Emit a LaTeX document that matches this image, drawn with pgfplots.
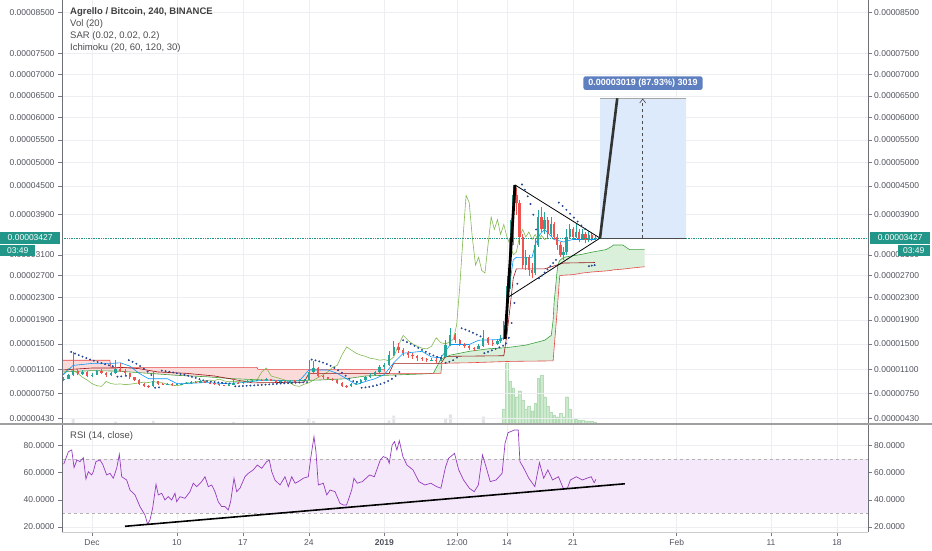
\documentclass[border=0pt]{standalone}
\usepackage{fontspec}
\setmainfont{Liberation Sans}
\usepackage{pgfplots}
\usepackage{pgfplotstable}
\pgfplotsset{compat=1.18}
\usetikzlibrary{arrows.meta}

\definecolor{upc}{RGB}{38,166,154}
\definecolor{dnc}{RGB}{239,83,80}
\definecolor{sarc}{RGB}{36,72,150}
\definecolor{convc}{RGB}{4,150,255}
\definecolor{basec}{RGB}{153,21,21}
\definecolor{lagc}{RGB}{130,185,80}
\definecolor{leadac}{RGB}{60,160,60}
\definecolor{leadbc}{RGB}{230,70,70}
\definecolor{rsic}{RGB}{150,60,190}
\definecolor{rsiband}{RGB}{245,232,250}
\definecolor{lblc}{RGB}{33,150,137}
\definecolor{projc}{RGB}{221,234,251}
\definecolor{boxc}{RGB}{94,128,192}
\definecolor{gridc}{RGB}{236,238,242}
\definecolor{txtc}{RGB}{80,84,94}
\definecolor{tickc}{RGB}{120,123,134}
\definecolor{axc}{RGB}{110,112,120}
\definecolor{redcloud}{RGB}{251,218,218}
\definecolor{greencloud}{RGB}{218,240,218}
\definecolor{volgc}{RGB}{205,233,206}
\definecolor{volec}{RGB}{180,220,182}

% price panel: screen y ~ price^0.76 (result kept in fpu format)
\newcommand\powtrafo[1]{\begingroup\pgfkeys{/pgf/fpu=true}%
  \pgfmathparse{(#1)^0.76}\xdef\pwres{\pgfmathresult}\endgroup\let\pgfmathresult\pwres}

% 12h / 8h candles, price in 1e-8 BTC
\pgfplotstableread{
d o h l c
-3.0 940 985 930 960
-2.5 960 1030 950 1010
-2.0 1010 1370 1000 1080
-1.5 1080 1100 1010 1030
-1.0 1030 1090 1020 1060
-0.5 1060 1070 980 1000
0.0 1000 1040 990 1020
0.5 1020 1090 1010 1070
1.0 1070 1100 1030 1050
1.5 1050 1060 990 1010
2.0 1010 1060 1000 1040
2.5 1040 1240 1030 1110
3.0 1110 1200 1060 1080
3.5 1080 1100 1020 1040
4.0 1040 1050 960 980
4.5 980 990 920 940
5.0 940 950 870 890
5.5 890 900 840 860
6.0 860 870 830 850
6.5 850 1080 845 920
7.0 920 930 875 890
7.5 890 900 865 880
8.0 880 900 870 885
8.5 885 895 860 875
9.0 875 895 865 880
9.5 880 905 870 890
10.0 890 915 880 900
10.5 900 930 890 910
11.0 910 925 895 905
11.5 905 940 900 920
12.0 920 930 895 905
12.5 905 915 890 900
13.0 900 905 870 880
13.5 880 885 855 865
14.0 865 875 850 860
14.5 860 880 850 870
15.0 870 960 865 905
15.5 905 915 885 895
16.0 895 930 890 915
16.5 915 940 905 925
17.0 925 945 915 930
17.5 930 955 925 940
18.0 940 950 925 935
18.5 935 975 930 955
19.0 955 960 920 930
19.5 930 940 905 915
20.0 915 940 905 925
20.5 925 935 905 915
21.0 915 945 905 930
21.5 930 940 915 925
22.0 925 950 920 935
22.5 935 955 925 940
23.0 940 1250 935 1060
23.5 1060 1230 1040 1120
24.0 1120 1130 980 1000
24.5 1000 1020 960 980
25.0 980 990 940 960
25.5 960 970 925 940
26.0 940 950 880 900
26.5 900 910 845 860
27.0 860 870 830 850
27.5 850 900 840 880
28.0 880 920 870 900
28.5 900 960 890 940
29.0 940 1000 930 980
29.5 980 1040 970 1020
30.0 1020 1080 1000 1060
30.5 1060 1160 1040 1130
31.0 1130 1200 1110 1160
31.5 1160 1380 1150 1320
32.0 1320 1550 1300 1450
32.5 1450 1520 1350 1400
33.0 1400 1430 1300 1350
33.5 1350 1380 1280 1320
34.0 1320 1350 1260 1300
34.5 1300 1320 1230 1270
35.0 1270 1290 1220 1260
35.5 1260 1280 1210 1240
36.0 1240 1280 1220 1250
36.5 1250 1270 1200 1230
37.0 1230 1320 1220 1290
37.5 1290 1560 1280 1480
38.0 1480 1760 1460 1640
38.5 1640 1680 1520 1560
39.0 1560 1580 1470 1500
39.5 1500 1520 1430 1460
40.0 1460 1480 1400 1430
40.5 1430 1450 1390 1420
41.0 1420 1500 1410 1460
41.5 1460 1730 1450 1600
42.0 1600 1620 1480 1520
42.5 1520 1560 1470 1500
43.0 1500 1580 1480 1540
43.33 1540 1640 1520 1580
43.67 1580 1880 1560 1820
44.0 1820 2700 1800 2500
44.33 2500 3800 2450 3400
44.67 3400 4520 3300 4300
45.0 4300 4460 3900 4150
45.33 4150 4200 3300 3440
45.67 3440 3500 2830 2900
46.0 2900 3200 2800 3050
46.33 3050 3100 2700 2800
46.67 2800 2950 2650 2750
47.0 2750 3400 2720 3300
47.33 3300 4000 3250 3850
47.67 3850 4050 3550 3600
48.0 3600 3950 3500 3800
48.33 3800 3850 3400 3500
48.67 3500 3850 3450 3700
49.0 3700 3750 3400 3450
49.33 3450 3500 3200 3300
49.67 3300 3350 3050 3100
50.0 3100 3250 3000 3150
50.33 3150 3600 3100 3450
50.67 3450 3700 3400 3600
51.0 3600 3650 3400 3450
51.33 3450 3700 3420 3550
51.67 3550 3600 3350 3400
52.0 3400 3600 3380 3500
52.33 3500 3550 3330 3380
52.67 3380 3560 3350 3480
53.0 3480 3520 3360 3400
53.33 3400 3470 3380 3427
}\candles

\pgfplotstableread{
d p
-2.2 1370
-1.8 1345
-1.4 1320
-1.0 1296
-0.6 1273
-0.2 1252
0.2 1232
0.6 1213
1.0 1195
1.4 1178
1.8 1162
2.2 1147
2.7 990
3.1 995
3.6 1003
3.9 1240
4.3 1215
4.7 1185
5.1 1150
5.5 1110
5.9 1065
6.3 1015
6.7 830
7.1 835
7.4 1080
7.8 1072
8.2 1063
8.6 1053
9.0 1042
9.4 1030
9.8 1017
10.2 1003
10.6 988
11.0 972
11.4 955
11.8 937
12.2 925
12.6 918
13.0 912
13.4 906
13.8 900
14.2 895
14.6 890
15.2 850
15.6 852
16.0 855
16.4 858
16.8 861
17.2 864
17.6 867
18.0 870
18.4 874
18.8 878
19.2 882
19.6 886
20.0 890
20.4 893
20.8 896
21.2 899
21.6 902
22.0 905
22.4 908
22.8 911
23.3 1250
23.7 1238
24.1 1222
24.5 1203
24.9 1180
25.3 1153
25.7 1122
26.1 1087
26.5 1048
26.9 1005
27.3 960
27.7 925
28.1 915
28.6 830
29.0 835
29.4 843
29.8 853
30.2 866
30.6 882
31.0 902
31.4 927
31.8 958
32.2 1000
32.6 1060
33.0 1560
33.4 1530
33.8 1500
34.2 1468
34.6 1436
35.0 1404
35.4 1372
35.8 1342
36.2 1315
36.6 1292
37.0 1275
37.5 1200
37.9 1215
38.3 1240
38.7 1280
39.2 1760
39.6 1738
40.0 1712
40.4 1684
40.8 1654
41.2 1625
41.6 1350
42.0 1372
42.4 1396
42.8 1420
43.2 1444
43.6 1470
43.9 1510
44.2 1600
44.5 1850
44.8 2200
45.1 2550
45.6 4530
45.9 4420
46.2 4280
46.5 4120
46.8 3900
47.1 3600
47.4 2650
47.7 2700
48.0 2760
48.3 2820
48.6 2880
48.9 2940
49.2 3000
49.5 4150
49.9 4080
50.3 4000
50.7 3920
51.1 3840
51.5 3760
51.9 3680
52.3 3610
52.7 2880
53.0 2890
53.3 2900
}\sar

\pgfplotstableread{
d p
-3.18 1000
-2.0 1160
0.0 1190
2.0 1190
3.0 1200
4.0 1150
5.0 1040
6.0 960
8.0 960
9.0 890
10.0 890
12.0 905
14.0 890
16.0 905
17.0 920
18.0 935
19.0 940
21.0 925
22.0 930
23.0 1090
25.0 1090
26.0 1040
27.0 960
28.0 875
29.0 920
30.0 960
31.0 1020
32.0 1200
33.0 1350
35.0 1380
36.0 1290
37.0 1280
38.0 1490
40.0 1490
41.0 1560
43.0 1570
43.67 1600
44.0 2150
44.33 2580
44.67 3000
45.0 3050
46.67 3050
47.0 3300
47.5 3500
48.0 3600
49.0 3400
50.0 3350
51.0 3400
53.33 3400
}\conv

\pgfplotstableread{
d p
-3.18 1090
0 1120
2.5 1120
3 1130
5 1110
7 1060
10 1040
13 1000
15 950
17 900
22.5 910
23 1040
31.5 1040
32 1190
37 1190
37.5 1300
43.67 1310
44 1650
44.33 2120
44.67 2650
45 2830
48 2830
50 2940
53.33 2950
}\base

% Ichimoku lead A (a) and lead B (b)
\pgfplotstableread{
d a b
-3.18 1060 1240
0 1080 1240
1.9 1075 1240
2.0 1075 1130
3 1070 1130
6 1040 1130
9 1010 1130
12 990 1130
15 960 1130
17.5 945 1130
17.6 945 1100
21 930 1100
24 940 1100
27 960 1100
29 1000 1100
31 1010 1100
31.1 1010 1040
33 1020 1040
35 1030 1040
36.2 1040 1040
37 1260 1040
37.1 1265 1190
38 1320 1195
40 1380 1200
42 1420 1210
44 1440 1220
46 1480 1225
48 1560 1228
48.7 1640 1230
48.9 1900 1230
49.0 2200 1420
49.3 2750 2000
49.4 2900 2230
49.6 2990 2700
50 3050 2710
51 3080 2720
52 3110 2750
53 3150 2770
54.5 3200 2790
55 3250 2800
55.3 3290 2810
56.3 3290 2825
57 3200 2840
58.6 3200 2870
}\lead

% cloud outlines: lead A forward, lead B back
\pgfplotstableread{
d p
-3.18 1060
0 1080
1.9 1075
3 1070
6 1040
9 1010
12 990
15 960
17.5 945
21 930
24 940
27 960
29 1000
31 1010
33 1020
35 1030
36.2 1040
35 1040
31.1 1040
31 1100
17.6 1100
17.5 1130
2.0 1130
1.9 1240
-3.18 1240
}\redcloudpoly

\pgfplotstableread{
d p
36.2 1040
37 1260
37.1 1265
38 1320
40 1380
42 1420
44 1440
46 1480
48 1560
48.7 1640
48.9 1900
49.0 2200
49.3 2750
49.4 2900
49.6 2990
50 3050
51 3080
52 3110
53 3150
54.5 3200
55 3250
55.3 3290
56.3 3290
57 3200
58.6 3200
58.6 2870
57 2840
55 2800
52 2750
50 2710
49.6 2700
49.4 2230
49.3 2000
49.0 1420
48.9 1230
46 1225
42 1210
38 1195
37.1 1190
37 1040
36.2 1040
}\greencloudpoly

\pgfplotstableread{
d v
-2.0 8
2.5 4
6.5 5
15.0 3
23.0 8
23.5 5
31.5 6
32.0 14
37.5 10
38.0 16
41.5 12
}\volgray

\pgfplotstableread{
d v
43.67 25
44.0 100
44.33 70
44.67 60
45.0 45
45.33 55
45.67 40
46.0 25
46.33 30
46.67 22
47.0 35
47.33 75
47.67 80
48.0 45
48.33 30
48.67 20
49.0 15
49.33 12
49.67 18
50.0 12
50.33 45
50.67 25
51.0 10
51.33 8
51.67 6
52.0 7
52.33 5
52.67 5
53.0 4
53.33 3
}\volgreen

\pgfplotstableread{
d r
-3.0 66.2
-2.5 75.4
-2.15 76.7
-1.9 63.7
-1.6 69.3
-1.27 68.1
-0.92 71.0
-0.64 55.3
-0.39 60.7
-0.03 58.3
0.14 60.7
0.42 68.1
0.85 69.3
1.13 66.2
1.56 58.3
1.91 59.5
2.26 55.9
2.62 63.2
2.9 73.5
3.15 57.0
3.68 54.6
4.03 47.2
4.56 43.6
5.09 35.0
5.62 28.8
5.9 22.0
6.15 25.2
6.43 33.8
6.79 51.4
7.03 43.6
7.39 44.8
7.74 39.9
8.09 42.3
8.45 39.9
8.8 44.8
8.98 38.6
9.33 42.3
9.86 41.1
10.39 46.0
10.74 52.2
11.1 49.7
11.63 53.4
11.98 57.0
12.33 49.7
12.69 50.9
13.04 46.0
13.39 38.6
13.75 35.0
14.1 35.0
14.45 32.5
14.7 38.6
15.06 55.9
15.34 46.0
15.69 48.5
16.22 57.0
16.58 59.5
17.1 62.0
17.53 65.6
18.0 63.2
18.52 68.1
18.8 69.3
19.06 60.7
19.4 54.6
19.94 50.9
20.47 57.0
20.82 49.7
21.18 57.0
21.53 52.2
21.88 53.4
22.41 55.9
22.94 57.0
23.19 70.5
23.54 86.5
23.75 75.4
24.0 50.9
24.53 52.2
24.89 43.6
25.24 47.2
25.77 46.0
26.3 37.4
26.65 36.2
27.0 36.2
27.54 47.2
27.78 55.9
28.13 52.2
28.67 53.4
29.44 58.3
29.94 57.0
30.57 69.3
30.88 71.8
31.33 70.5
31.52 66.9
31.83 80.4
32.08 82.8
32.33 76.7
32.59 83.5
32.97 71.8
33.4 65.6
34.04 62.0
34.67 53.4
35.3 50.9
35.93 52.2
36.55 49.7
37.0 48.5
37.5 64.4
37.81 70.5
38.44 74.2
38.89 62.0
39.4 54.6
40.02 48.5
40.53 46.0
40.97 50.9
41.41 73.0
41.78 64.4
42.23 53.4
42.85 54.6
43.49 59.5
43.8 81.6
44.12 89.4
44.8 91.4
45.2 91.4
45.38 68.1
45.7 64.4
46.32 55.9
46.96 49.7
47.45 67.3
47.9 55.9
48.34 62.0
48.84 54.6
49.47 57.0
49.97 48.5
50.41 48.5
50.73 54.6
51.36 57.0
51.99 54.6
52.49 55.9
52.94 57.0
53.25 52.6
53.44 55.1
}\rsi

\pgfplotsset{
  panel/.style={
    scale only axis, width=806pt, xmin=-3.18, xmax=82.29,
    axis line style={draw=none},
    tick align=outside, major tick length=4pt,
    tick style={draw=tickc, line width=0.5pt},
    ticklabel style={font=\fontsize{8.5}{10}\selectfont, text=txtc},
    xtick={0,9,16,23,31,38.7,44,51,62,72,79},
  },
}
\tikzset{lbl/.style={font=\fontsize{8.5}{10}\selectfont, text=txtc, inner sep=0pt},
  pbox/.style={fill=lblc, text=white, font=\fontsize{8.5}{10}\selectfont, inner sep=1pt}}

\pgfplotstablegetrowsof{\candles}
\pgfmathtruncatemacro{\nlast}{\pgfplotsretval-1}

\begin{document}
\begin{tikzpicture}
\useasboundingbox (0,0) rectangle (932pt,550pt);

% volume (behind everything)
\begin{axis}[at={(62pt,126pt)}, anchor=south west, scale only axis,
  width=806pt, height=424pt, xmin=-3.18, xmax=82.29, ymin=0, ymax=700, hide axis]
\addplot[ybar, bar width=0.3, bar shift=0pt, draw=none, fill=gray!22] table[x=d, y=v] {\volgray};
\addplot[ybar, bar width=0.28, bar shift=0pt, draw=volec, line width=0.3pt, fill=volgc] table[x=d, y=v] {\volgreen};
\end{axis}

% price panel (y values are mapped by the filter to price^0.76)
\begin{axis}[panel, at={(62pt,126pt)}, anchor=south west, height=424pt,
  y filter/.code={\powtrafo{#1}},
  ymin=87.77, ymax=995.7,
  ytick={100.33,153.1,204.9,259.3,310.4,359.0,405.3,450.1,535.9,597.6,647.5,696.1,743.7,790.4,836.1,881.4,969.2},
  yticklabels={0.00000430,0.00000750,0.00001100,0.00001500,0.00001900,0.00002300,0.00002700,0.00003100,0.00003900,0.00004500,0.00005000,0.00005500,0.00006000,0.00006500,0.00007000,0.00007500,0.00008500},
  xticklabels={}, xtick style={draw=none}, ytick pos=left,
  grid=major, grid style={gridc, line width=0.6pt}]

\addplot[draw=none, fill=redcloud, forget plot] table[x=d, y=p] {\redcloudpoly};
\addplot[draw=none, fill=greencloud, forget plot] table[x=d, y=p] {\greencloudpoly};
\addplot[leadac, line width=0.6pt] table[x=d, y=a] {\lead};
\addplot[leadbc, line width=0.6pt] table[x=d, y=b] {\lead};

\addplot[lagc, line width=0.6pt] table[x expr=\thisrow{d}-5, y=c] {\candles};
\addplot[basec, line width=0.6pt] table[x=d, y=p] {\base};
\addplot[convc, line width=0.6pt] table[x=d, y=p] {\conv};

\pgfplotsinvokeforeach{0,...,\nlast}{%
  \pgfplotstablegetelem{#1}{d}\of\candles\let\cd\pgfplotsretval
  \pgfplotstablegetelem{#1}{o}\of\candles\let\co\pgfplotsretval
  \pgfplotstablegetelem{#1}{h}\of\candles\let\ch\pgfplotsretval
  \pgfplotstablegetelem{#1}{l}\of\candles\let\cl\pgfplotsretval
  \pgfplotstablegetelem{#1}{c}\of\candles\let\cc\pgfplotsretval
  \ifdim\cc pt<\co pt\def\ccol{dnc}\else\def\ccol{upc}\fi
  \edef\doit{\noexpand\addplot[forget plot,\ccol,line width=0.7pt] coordinates {(\cd,\cl) (\cd,\ch)};%
    \noexpand\addplot[forget plot,\ccol,line width=2.3pt] coordinates {(\cd,\co) (\cd,\cc)};}%
  \doit
}

\addplot[only marks, mark=*, mark size=0.75pt, sarc] table[x=d, y=p] {\sar};

% current price line
\addplot[lblc, densely dotted, line width=0.7pt] coordinates {(-3.18,3427) (82.29,3427)};

% projection box
\addplot[draw=none, fill=projc] coordinates {(53.87,3427) (63.0,3427) (63.0,6446) (53.87,6446) (53.87,3427)};
\addplot[gray!70, line width=1.4pt] coordinates {(53.87,6446) (63.0,6446)};
\addplot[black!70, line width=0.7pt] coordinates {(53.87,3427) (63.0,3427)};
\addplot[black!70, dashed, line width=0.6pt] coordinates {(58.4,3427) (58.4,6420)};

% drawn pattern
\addplot[black, line width=2.8pt] coordinates {(43.8,1580) (44.86,4520)};
\addplot[black, line width=0.8pt] coordinates {(44.86,4520) (53.87,3427)};
\addplot[black, line width=0.8pt] coordinates {(44.1,2300) (53.87,3427)};
\addplot[black!80, line width=2.6pt] coordinates {(53.87,3427) (55.7,6446)};
\end{axis}

% arrow head of the measure, label above the box
\draw[black!70, line width=0.6pt] (639.7pt,447pt) -- (642.7pt,451pt) -- (645.7pt,447pt);
\node[fill=boxc, text=white, font=\bfseries\fontsize{9}{10}\selectfont, rounded corners=2pt,
  inner xsep=5pt, inner ysep=2.5pt, anchor=south] at (643pt,460pt) {0.00003019 (87.93\%) 3019};

% right-hand price labels (positions of the ticks above)
\foreach \yy/\tt in {131.87/0430,156.51/0750,180.70/1100,206.10/1500,229.97/1900,252.66/2300,274.28/2700,295.21/3100,335.28/3900,364.09/4500,387.39/5000,410.09/5500,432.32/6000,454.13/6500,475.47/7000,496.62/7500,537.63/8500}{
  \draw[tickc, line width=0.5pt] (868pt,\yy pt) -- (872pt,\yy pt);
  \node[lbl, anchor=west] at (874pt,\yy pt) {0.0000\tt};
}
\foreach \yy/\tt in {23.03/20,50.19/40,77.36/60,104.53/80}{
  \draw[tickc, line width=0.5pt] (868pt,\yy pt) -- (872pt,\yy pt);
  \node[lbl, anchor=west] at (874pt,\yy pt) {\tt.0000};
}

% current price boxes
\node[pbox, minimum width=60pt, minimum height=12pt, anchor=west] at (0pt,312.2pt) {0.00003427};
\node[pbox, minimum width=60pt, minimum height=12pt, anchor=west] at (870pt,312.2pt) {0.00003427};
\node[pbox, minimum width=35pt, minimum height=11pt, anchor=north west] at (0pt,305pt) {03:49};
\node[pbox, minimum width=32pt, minimum height=11pt, anchor=north east] at (930pt,305pt) {03:49};

% RSI panel
\begin{axis}[panel, at={(62pt,18pt)}, anchor=south west, height=108pt, ymin=16.3, ymax=95.8,
  xticklabels={Dec,10,17,24,\textbf{2019},12:00,14,21,Feb,11,18}, xtick pos=bottom,
  ytick={20,40,60,80}, yticklabels={20.0000,40.0000,60.0000,80.0000}, ytick pos=left,
  grid=major, grid style={gridc, line width=0.6pt}]
\addplot[draw=none, fill=rsiband] coordinates {(-3.18,30) (82.29,30) (82.29,70) (-3.18,70) (-3.18,30)};
\addplot[gray!60, dashed, line width=0.6pt] coordinates {(-3.18,70) (82.29,70)};
\addplot[gray!60, dashed, line width=0.6pt] coordinates {(-3.18,30) (82.29,30)};
\addplot[rsic, line width=0.7pt] table[x=d, y=r] {\rsi};
\addplot[black, line width=1.6pt] coordinates {(3.5,20.5) (56.5,51.8)};
\end{axis}

% frame lines
\draw[axc, line width=0.8pt] (62pt,18pt) -- (62pt,550pt);
\draw[axc, line width=0.8pt] (868pt,18pt) -- (868pt,550pt);
\draw[gray!40, line width=0.6pt] (62pt,18pt) -- (868pt,18pt);
\draw[gray!75, line width=1.6pt] (0pt,126pt) -- (932pt,126pt);

% legends
\node[anchor=west, text=black!75, font=\bfseries\fontsize{9.5}{11}\selectfont, inner sep=0pt] at (70pt,538pt) {Agrello / Bitcoin, 240, BINANCE};
\node[anchor=west, text=black!70, font=\fontsize{9.5}{11}\selectfont, inner sep=0pt] at (70pt,526pt) {Vol (20)};
\node[anchor=west, text=black!70, font=\fontsize{9.5}{11}\selectfont, inner sep=0pt] at (70pt,514pt) {SAR (0.02, 0.02, 0.2)};
\node[anchor=west, text=black!70, font=\fontsize{9.5}{11}\selectfont, inner sep=0pt] at (70pt,502pt) {Ichimoku (20, 60, 120, 30)};
\node[anchor=west, text=black!70, font=\fontsize{9.5}{11}\selectfont, inner sep=0pt] at (70pt,114pt) {RSI (14, close)};
\end{tikzpicture}
\end{document}
